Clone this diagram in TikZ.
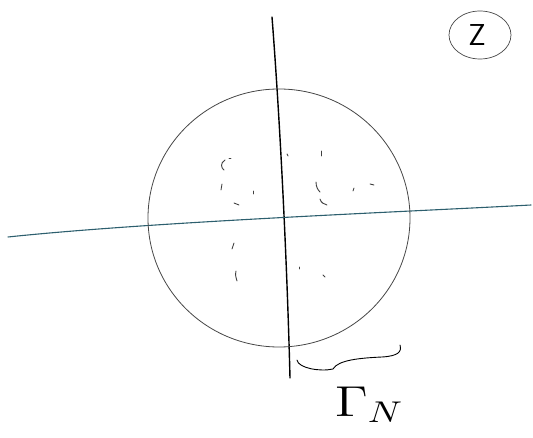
\documentclass[tikz,border=0pt]{standalone}
\usetikzlibrary{arrows.meta, positioning, calc}
\definecolor{penteal}{RGB}{45,95,110}
\definecolor{pengray}{RGB}{70,70,70}

\begin{document}
\begin{tikzpicture}[
    x=1pt, y=-1pt, line cap=round,
    scratch/.style={line width=0.9pt, black!75}
  ]
  \useasboundingbox (0,0) rectangle (533,438);

  % Axes
  \coordinate (vtop) at (272,17);
  \coordinate (vbot) at (290,378);
  \coordinate (hleft) at (8,237);
  \coordinate (hright) at (531,205);
  \draw[line width=1.4pt] (vtop) .. controls (280,120) and (287,260) .. (vbot);
  \draw[penteal, line width=1.1pt] (hleft) .. controls (150,222) and (400,212) .. (hright);

  % Disc
  \coordinate (centre) at (279,218);
  \draw[pengray, line width=0.8pt] (centre) ellipse [x radius=131, y radius=129];

  % Circled z
  \node[font=\LARGE, scale=1.75] (zlabel) at (477,35) {$\mathsf{Z}$};
  \draw[pengray, line width=0.7pt] (480,35) ellipse [x radius=31, y radius=24];

  % Brace under the boundary part
  \coordinate (bleft) at (297,360);
  \coordinate (bmid) at (333,369);
  \coordinate (bright) at (400,345);
  \draw[line width=0.9pt] (bleft) .. controls (298,368) and (320,372) .. (bmid)
    .. controls (338,360) and (360,358) .. (382,357)
    .. controls (398,356) and (402,352) .. (bright);

  % Label
  \node[font=\Large, scale=3, xscale=1.25, anchor=north west, inner sep=0pt]
    (gamma) at (334,386) {$\Gamma_N$};

  % Faint marks inside the disc
  \draw[scratch] (225,160) .. controls (220,163) and (221,168) .. (224,170);
  \draw[scratch] (229,158) -- (231,158);
  \draw[scratch] (222,184) -- (221,190);
  \draw[scratch] (253,191) -- (253,194);
  \draw[scratch] (234,203) -- (239,205);
  \draw[scratch] (287,154) -- (288,156);
  \draw[scratch] (321,151) -- (321,156);
  \draw[scratch] (316,182) .. controls (316,187) and (318,190) .. (320,192);
  \draw[scratch] (320,199) .. controls (321,203) and (324,204) .. (327,205);
  \draw[scratch] (354,188) -- (353,191);
  \draw[scratch] (370,184) -- (374,185);
  \draw[scratch] (234,243) -- (232,249);
  \draw[scratch] (236,271) .. controls (235,275) and (236,278) .. (237,281);
  \draw[scratch] (299,267) -- (299,269);
  \draw[scratch] (323,275) -- (325,277);
\end{tikzpicture}
\end{document}
